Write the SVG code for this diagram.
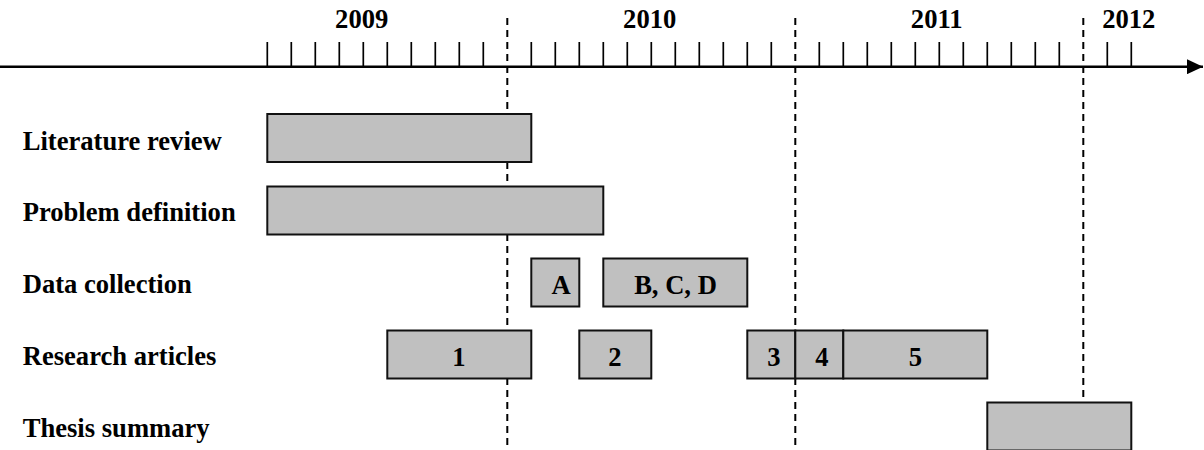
<svg xmlns="http://www.w3.org/2000/svg" width="1204" height="450" viewBox="0 0 1204 450">
  <style>
    text { font-family: "Liberation Serif", "Times New Roman", serif; font-weight: bold; font-size: 26.6px; fill: #000; }
    .mid { text-anchor: middle; }
    .bar { fill: #c0c0c0; stroke: #111; stroke-width: 2; }
    .tick { stroke: #000; stroke-width: 1.7; }
    .year { stroke: #000; stroke-width: 2; stroke-dasharray: 7 5; fill: none; }
  </style>
  <defs>
    <marker id="arrow" viewBox="0 0 16 15" refX="16" refY="7.5" markerUnits="userSpaceOnUse" markerWidth="16" markerHeight="15" orient="auto">
      <path d="M0,0 L16,7.5 L0,15 Z" fill="#000"/>
    </marker>
  </defs>

  <!-- time axis with monthly ticks -->
  <g id="axis">
    <line x1="0" y1="66.7" x2="1203" y2="66.7" stroke="#000" stroke-width="2.6" marker-end="url(#arrow)"/>
    <path class="tick" d="M267.3,42V66 M291.3,42V66 M315.3,42V66 M339.3,42V66 M363.3,42V66 M387.3,42V66 M411.3,42V66 M435.3,42V66 M459.3,42V66 M483.3,42V66 M531.3,42V66 M555.3,42V66 M579.3,42V66 M603.3,42V66 M627.3,42V66 M651.3,42V66 M675.3,42V66 M699.3,42V66 M723.3,42V66 M747.3,42V66 M771.3,42V66 M819.3,42V66 M843.3,42V66 M867.3,42V66 M891.3,42V66 M915.3,42V66 M939.3,42V66 M963.3,42V66 M987.3,42V66 M1011.3,42V66 M1035.3,42V66 M1059.3,42V66 M1107.3,42V66 M1131.3,42V66"/>
    <text class="mid" x="361.7" y="28">2009</text>
    <text class="mid" x="649.7" y="28">2010</text>
    <text class="mid" x="936.7" y="28">2011</text>
    <text class="mid" x="1128.8" y="28">2012</text>
  </g>

  <!-- year boundaries -->
  <g id="connectors">
    <line class="year" x1="507.3" y1="18" x2="507.3" y2="446"/>
    <line class="year" x1="795.3" y1="18" x2="795.3" y2="446"/>
    <line class="year" x1="1083.3" y1="18" x2="1083.3" y2="404"/>
  </g>

  <!-- row labels -->
  <g id="labels">
    <text x="22.7" y="150">Literature review</text>
    <text x="22.7" y="221">Problem definition</text>
    <text x="22.7" y="293">Data collection</text>
    <text x="22.7" y="365">Research articles</text>
    <text x="22.7" y="437">Thesis summary</text>
  </g>

  <g id="literature-review">
    <rect class="bar" x="267.3" y="114" width="264" height="48"/>
  </g>
  <g id="problem-definition">
    <rect class="bar" x="267.3" y="186.5" width="336" height="48"/>
  </g>
  <g id="data-a">
    <rect class="bar" x="531.3" y="258.5" width="48" height="48"/>
    <text class="mid" x="561" y="293.5">A</text>
  </g>
  <g id="data-bcd">
    <rect class="bar" x="603.3" y="258.5" width="144" height="48"/>
    <text class="mid" x="675.5" y="293.5">B, C, D</text>
  </g>
  <g id="article-1">
    <rect class="bar" x="387.3" y="330.5" width="144" height="48"/>
    <text class="mid" x="459" y="365.5">1</text>
  </g>
  <g id="article-2">
    <rect class="bar" x="579.3" y="330.5" width="72" height="48"/>
    <text class="mid" x="615" y="365.5">2</text>
  </g>
  <g id="article-3">
    <rect class="bar" x="747.3" y="330.5" width="48" height="48"/>
    <text class="mid" x="774" y="365.5">3</text>
  </g>
  <g id="article-4">
    <rect class="bar" x="795.3" y="330.5" width="48" height="48"/>
    <text class="mid" x="822" y="365.5">4</text>
  </g>
  <g id="article-5">
    <rect class="bar" x="843.3" y="330.5" width="144" height="48"/>
    <text class="mid" x="915.5" y="365.5">5</text>
  </g>
  <g id="thesis-summary">
    <rect class="bar" x="987.3" y="402.5" width="144" height="48"/>
  </g>
</svg>
